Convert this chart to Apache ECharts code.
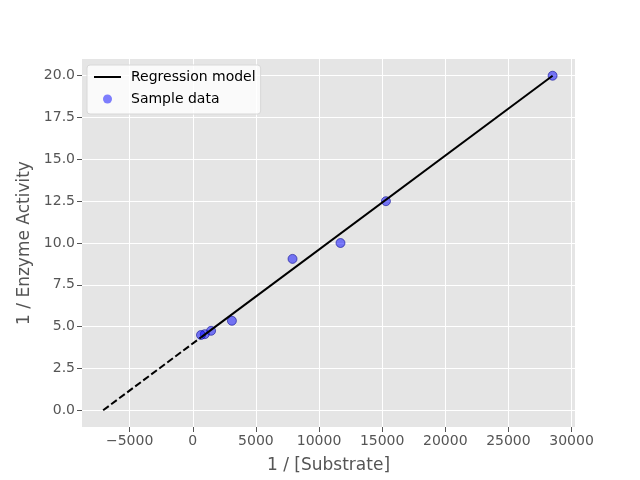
<!DOCTYPE html>
<html>
<head>
<meta charset="utf-8">
<script src="https://cdn.jsdelivr.net/npm/echarts@6/dist/echarts.min.js"></script>
<style>
  html, body { margin: 0; padding: 0; background: #fff; }
  #chart { width: 640px; height: 480px; }
</style>
</head>
<body>
<div id="chart"></div>
<script>
// 样本点 (1/[S], 1/v)
var sampleX = [28500, 15300, 11700, 7900, 3100, 1450, 950, 650]
var sampleY = [20.0, 12.5, 10.0, 9.05, 5.35, 4.75, 4.55, 4.5]

// 回归直线: 实线部分在数据范围内, 虚线外推到 x 轴
var fitX = [650, 28500]
var fitY = [4.36, 20.0]
var extX = [-7100, 650]
var extY = [0.0, 4.36]

// 刻度
var xTicks = [-5000, 0, 5000, 10000, 15000, 20000, 25000, 30000]
var yTicks = [0, 2.5, 5, 7.5, 10, 12.5, 15, 17.5, 20]

var font = 'DejaVu Sans'
var tickColor = '#555'

function pairs (xs, ys) {
  return xs.map(function (x, i) { return [x, ys[i]] })
}

var chart = echarts.init(document.getElementById('chart'))
chart.setOption({
  backgroundColor: '#fff',
  animation: false,
  grid: {
    left: 82, right: 65, top: 59, bottom: 53,
    show: true,
    backgroundColor: '#E5E5E5',
    borderWidth: 0
  },
  legend: {
    orient: 'vertical',
    left: 87, top: 65,
    padding: [4, 5, 7, 6],
    itemGap: 6,
    itemWidth: 27,
    itemHeight: 9,
    backgroundColor: 'rgba(255,255,255,0.8)',
    borderColor: '#d8d8d8',
    borderWidth: 1,
    borderRadius: 3,
    textStyle: { fontFamily: font, fontSize: 14, color: '#000', padding: [0, 0, 0, 5], lineHeight: 16 },
    data: [
      { name: 'Regression model', itemStyle: { opacity: 0 } },
      { name: 'Sample data', icon: 'circle', itemStyle: { color: 'rgba(0,0,255,0.5)', borderWidth: 0 } }
    ]
  },
  xAxis: {
    type: 'value',
    min: -8775, max: 30275,
    name: '1 / [Substrate]',
    nameLocation: 'middle',
    nameGap: 30,
    nameTextStyle: { fontFamily: font, fontSize: 17, color: tickColor },
    axisLine: { show: false, onZero: false },
    axisTick: { show: true, length: 5, lineStyle: { color: tickColor }, customValues: xTicks },
    axisLabel: {
      customValues: xTicks,
      fontFamily: font, fontSize: 14, color: tickColor, margin: 7,
      formatter: function (v) { return String(v).replace('-', '\u2212') }
    },
    splitLine: { show: true, lineStyle: { color: '#fff', width: 1 } }
  },
  yAxis: {
    type: 'value',
    min: -1, max: 21,
    name: '1 / Enzyme Activity',
    nameLocation: 'middle',
    nameGap: 48,
    nameTextStyle: { fontFamily: font, fontSize: 17, color: tickColor },
    axisLine: { show: false, onZero: false },
    axisTick: { show: true, length: 5, lineStyle: { color: tickColor }, customValues: yTicks },
    axisLabel: {
      customValues: yTicks,
      fontFamily: font, fontSize: 14, color: tickColor, margin: 7,
      formatter: function (v) { return v.toFixed(1) }
    },
    splitLine: { show: true, lineStyle: { color: '#fff', width: 1 } }
  },
  series: [
    {
      name: 'Sample data',
      type: 'scatter',
      symbolSize: 9,
      z: 2,
      itemStyle: {
        color: 'rgba(0,0,255,0.5)',
        borderColor: 'rgba(0,0,140,0.55)',
        borderWidth: 1,
        opacity: 1
      },
      data: pairs(sampleX, sampleY)
    },
    {
      name: 'Regression model',
      type: 'line',
      symbol: 'none',
      z: 3,
      lineStyle: { color: '#000', width: 2 },
      itemStyle: { color: '#000' },
      data: pairs(fitX, fitY)
    },
    {
      name: 'extrapolation',
      type: 'line',
      symbol: 'none',
      z: 3,
      lineStyle: { color: '#000', width: 2, type: [7, 3] },
      data: pairs(extX, extY)
    }
  ]
})
</script>
</body>
</html>
